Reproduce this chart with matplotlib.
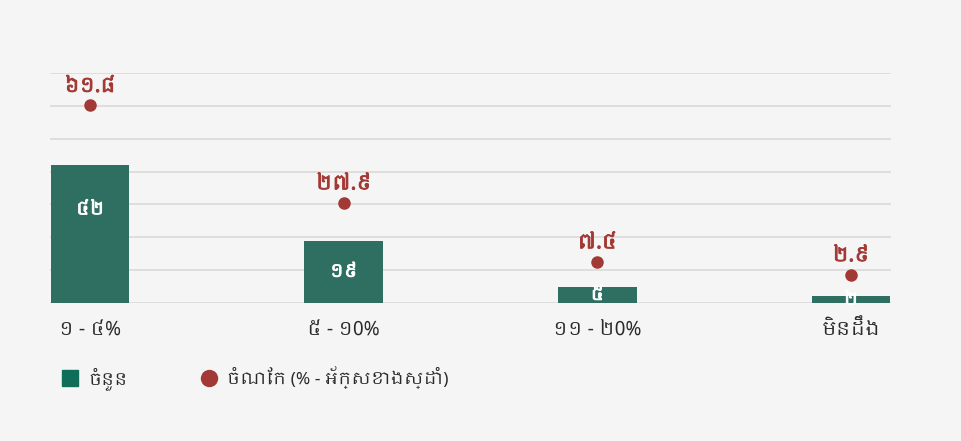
import matplotlib
matplotlib.use("Agg")
import matplotlib.pyplot as plt
from matplotlib import font_manager
from matplotlib.lines import Line2D
import matplotlib.patheffects as pe
import numpy as np

# data
categories = ["១ - ៤%", "៥ - ១0%", "១១ - ២0%", "មិនដឹង"]
counts = [42, 19, 5, 2]
shares = [61.8, 27.9, 7.4, 2.9]
legend_labels = ["ចំនួន", "ចំណែក (% - អ័ក្សខាងស្ដាំ)"]

# pick a Khmer font if one is around
khmer = sorted({f.name for f in font_manager.fontManager.ttflist if "Khmer" in f.name})
fams = khmer[:2] + ["Noto Sans", "DejaVu Sans"]
plt.rcParams["font.family"] = fams

KH = str.maketrans("0123456789", "០១២៣៤៥៦៧៨៩")
def kh(v):
    return str(v).translate(KH)

bg = "#f5f5f5"
bar_col = "#2f6f61"
dot_col = "#a33934"

fig = plt.figure(figsize=(9.61, 4.41), dpi=100, facecolor=bg)
ax = fig.add_axes([50/961, 138/441, 841/961, 230/441])
ax.set_facecolor(bg)

x = np.arange(len(categories))
ax.bar(x, counts, width=0.31, color=bar_col, zorder=2)
ax.set_xlim(-0.158, 3.158)
ax.set_ylim(0, 70)
ax.set_yticks(np.arange(0, 71, 10))
ax.yaxis.grid(True, color="#dcdcdc", linewidth=1.3, zorder=0)
ax.set_axisbelow(True)
ax.set_xticks(x)
ax.set_xticklabels(categories)
for s in ax.spines.values():
    s.set_visible(False)

for xi, v in zip(x, counts):
    ax.text(xi, v - min(v / 2, 13.5), kh(v), ha="center", va="center",
            color="white", fontsize=13, zorder=3,
            path_effects=[pe.withStroke(linewidth=0.7, foreground="white")])

# share on a hidden right axis
ax2 = ax.twinx()
ax2.set_ylim(-7, 73)
ax2.axis("off")
ax2.scatter(x, shares, s=64, color=dot_col, zorder=4)
for xi, v in zip(x, shares):
    ax2.annotate(kh(v), (xi, v), xytext=(0, 6), textcoords="offset points",
                 ha="center", va="bottom", color=dot_col, fontsize=14.5,
                 path_effects=[pe.withStroke(linewidth=0.7, foreground=dot_col)])

# twinx turns the left ticks back on
ax.tick_params(axis="y", left=False, labelleft=False)
ax.tick_params(axis="x", bottom=False, pad=9, labelsize=14, labelcolor="#2b2b2b")

handles = [
    Line2D([], [], marker="s", linestyle="none", markersize=11.5, color="#0e6e5a"),
    Line2D([], [], marker="o", linestyle="none", markersize=11.5, color=dot_col),
]
fig.legend(handles, legend_labels, loc="center left", bbox_to_anchor=(61/961, 1 - 378/441),
           ncol=2, frameon=False, fontsize=12.5, handlelength=1.0, handletextpad=0.55,
           columnspacing=4.2, borderpad=0, borderaxespad=0, labelcolor="#2b2b2b")

fig.savefig("out.png", dpi=100, facecolor=bg)
